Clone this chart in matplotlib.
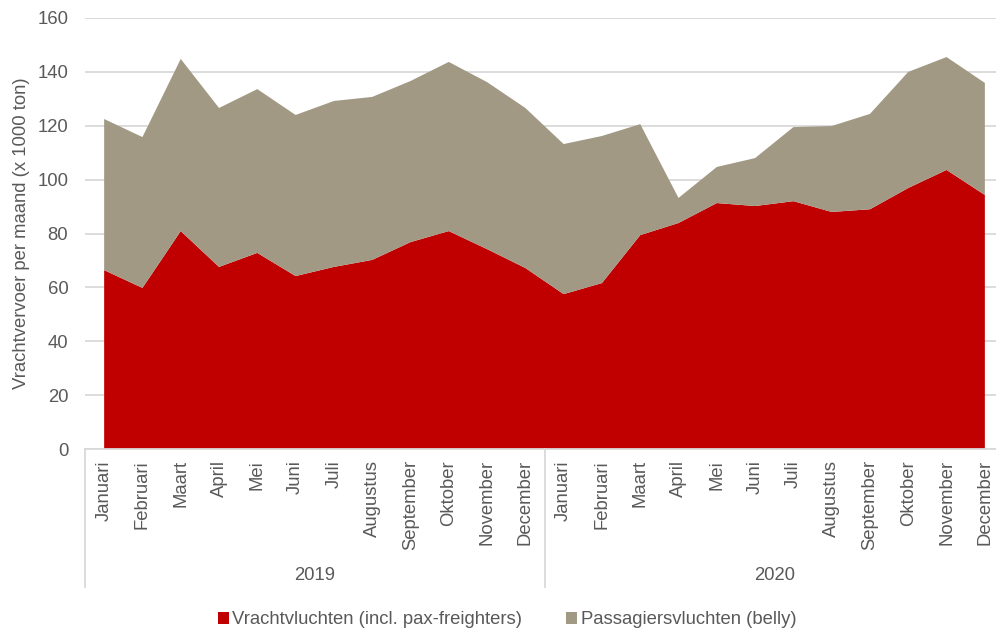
"""Stacked area chart: monthly cargo volume Schiphol 2019-2020."""

import matplotlib.pyplot as plt
import matplotlib.transforms as mtransforms
from matplotlib.patches import Patch

plt.rcParams["font.family"] = ["Liberation Sans", "DejaVu Sans"]

years = ["2019", "2020"]
months = [
    "Januari", "Februari", "Maart", "April", "Mei", "Juni",
    "Juli", "Augustus", "September", "Oktober", "November", "December",
]

# x 1000 ton per month
vrachtvluchten = [
    66.4, 59.8, 80.9, 67.6, 72.8, 64.2, 67.6, 70.2, 76.8, 80.9, 74.2, 67.2,
    57.5, 61.6, 79.4, 83.9, 91.3, 90.2, 92.0, 88.0, 89.0, 96.9, 103.6, 94.3,
]
totaal = [
    122.5, 115.8, 144.8, 126.6, 133.6, 124.0, 129.2, 130.7, 136.6, 143.7, 136.2, 126.6,
    113.2, 116.2, 120.6, 93.2, 104.7, 108.0, 119.5, 119.9, 124.4, 140.0, 145.5, 135.9,
]
passagiersvluchten = [t - v for t, v in zip(totaal, vrachtvluchten)]

labels = ["Vrachtvluchten (incl. pax-freighters)", "Passagiersvluchten (belly)"]
colors = ["#C00000", "#A29985"]
text_color = "#595959"
grid_color = "#D9D9D9"
fs = 13.3

n = len(vrachtvluchten)
x = list(range(n))
tick_labels = months * len(years)

fig = plt.figure(figsize=(9.96, 6.34), dpi=100)
ax = fig.add_axes([85 / 996, 1 - 449 / 634, 919 / 996, 431 / 634])

ax.stackplot(x, vrachtvluchten, passagiersvluchten, colors=colors, linewidth=0)

ax.set_xlim(-0.5, n - 0.5)
ax.set_ylim(0, 160)
ax.set_yticks(range(0, 161, 20))
ax.yaxis.grid(True, color=grid_color, linewidth=1.3)
ax.set_axisbelow(True)
ax.set_xticks(x)
ax.set_xticklabels(tick_labels, rotation=90, va="top", ha="center")
ax.tick_params(axis="both", length=0, labelsize=fs, colors=text_color)
ax.tick_params(axis="x", pad=8)
ax.tick_params(axis="y", pad=12)

for side in ["top", "right", "left"]:
    ax.spines[side].set_visible(False)
ax.spines["bottom"].set_color(grid_color)
ax.spines["bottom"].set_linewidth(1.3)

ax.set_ylabel("Vrachtvervoer per maand (x 1000 ton)", fontsize=fs, color=text_color, labelpad=5)

# year grouping below the month labels
trans = mtransforms.blended_transform_factory(ax.transData, ax.transAxes)
sep_bottom = -(587 - 449) / 431
for i in range(len(years)):
    xs = i * 12 - 0.5
    ax.plot([xs, xs], [0, sep_bottom], transform=trans, color=grid_color,
            linewidth=1.3, clip_on=False)
for i, year in enumerate(years):
    ax.text(i * 12 + 5.5, -(576 - 449) / 431, year, transform=trans,
            ha="center", va="center", fontsize=fs, color=text_color)

handles = [Patch(facecolor=c, edgecolor="none") for c in colors]
fig.legend(handles, labels, loc="center", bbox_to_anchor=(507 / 996, 1 - 620 / 634),
           ncol=2, frameon=False, fontsize=fs, handlelength=0.6, handleheight=0.6,
           handletextpad=0.2, columnspacing=2.35, labelcolor=text_color)

fig.savefig("out.png", dpi=100)
